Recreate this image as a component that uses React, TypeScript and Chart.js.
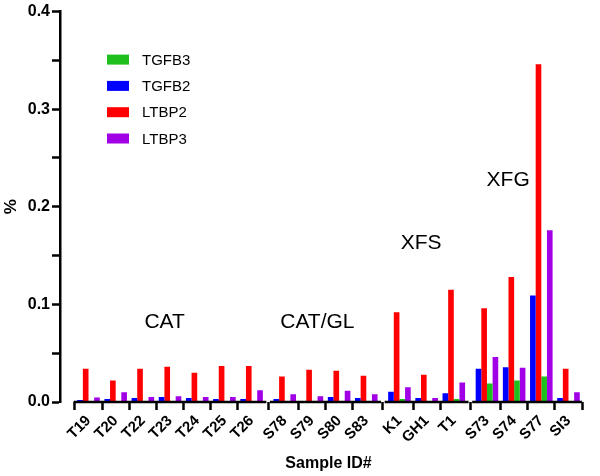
import React, { useEffect, useRef } from 'react';
import { Chart, registerables } from 'chart.js';

Chart.register(...registerables);

const groupNames = ['CAT', 'CAT/GL', 'XFS', 'XFG'];
const groupSamples = [
  ['T19', 'T20', 'T22', 'T23', 'T24', 'T25', 'T26'],
  ['S78', 'S79', 'S80', 'S83'],
  ['K1', 'GH1', 'T1'],
  ['S73', 'S74', 'S77', 'SI3'],
];
const samples = groupSamples.flat();

// values in %
const tgfb2 = [0.002, 0.003, 0.004, 0.005, 0.004, 0.003, 0.003, 0.003, 0.001, 0.005, 0.004, 0.0105, 0.004, 0.009, 0.034, 0.0355, 0.109, 0.004];
const ltbp2 = [0.034, 0.022, 0.034, 0.036, 0.030, 0.037, 0.037, 0.026, 0.033, 0.032, 0.027, 0.092, 0.028, 0.115, 0.096, 0.128, 0.346, 0.034];
const tgfb3 = [0.001, 0.001, 0.001, 0.001, 0.001, 0.001, 0.001, 0.001, 0.001, 0.001, 0.001, 0.003, 0.001, 0.003, 0.019, 0.022, 0.026, 0.0005];
const ltbp3 = [0.0045, 0.010, 0.005, 0.006, 0.005, 0.005, 0.012, 0.008, 0.006, 0.0115, 0.008, 0.015, 0.004, 0.020, 0.046, 0.035, 0.176, 0.010];

const seriesNames = ['TGFB2', 'LTBP2', 'TGFB3', 'LTBP3'];
const seriesValues = [tgfb2, ltbp2, tgfb3, ltbp3];
const seriesColors = ['#0000ff', '#ff0000', '#1dc01d', '#a100e6'];
const legendOrder = [2, 0, 1, 3];

const yTickStep = 0.05;
const yMax = 0.4;

const GAP = 0.22;
const FONT = "'Liberation Sans', Arial, sans-serif";

// x positions: index within the flattened list plus a small gap per group
const xPos: number[] = [];
groupSamples.forEach((g, gi) => {
  g.forEach(() => {
    xPos.push(xPos.length + gi * GAP);
  });
});
const groupStart: number[] = [];
const groupEnd: number[] = [];
{
  let k = 0;
  groupSamples.forEach((g) => {
    groupStart.push(xPos[k]);
    groupEnd.push(xPos[k + g.length - 1]);
    k += g.length;
  });
}
const xMin = -0.5;
const xMax = xPos[xPos.length - 1] + 0.5;

// group label anchors (data units)
const groupLabelX = [2.8, 8.42, 12.24, 15.44];
const groupLabelY = [0.082, 0.082, 0.163, 0.227];

const brokenAxisPlugin = {
  id: 'brokenAxis',
  afterDatasetsDraw(chart: any) {
    const { ctx } = chart;
    const xs = chart.scales.x;
    const y = chart.chartArea.bottom;
    ctx.save();
    ctx.strokeStyle = '#000';
    ctx.lineWidth = 2.5;
    groupSamples.forEach((_, gi) => {
      const a = gi === 0 ? xMin : groupStart[gi] - 0.5 - GAP * 0.2;
      const b = gi === groupSamples.length - 1 ? xMax : groupEnd[gi] + 0.5 + GAP * 0.2;
      ctx.beginPath();
      ctx.moveTo(xs.getPixelForValue(a) - (gi === 0 ? 1.25 : 0), y);
      ctx.lineTo(xs.getPixelForValue(b), y);
      ctx.stroke();
    });
    // group labels
    ctx.fillStyle = '#000';
    ctx.font = `21px ${FONT}`;
    ctx.textAlign = 'center';
    ctx.textBaseline = 'middle';
    groupNames.forEach((n, gi) => {
      ctx.fillText(n, xs.getPixelForValue(groupLabelX[gi]), chart.scales.y.getPixelForValue(groupLabelY[gi]));
    });
    // legend
    const ca = chart.chartArea;
    ctx.font = `15px ${FONT}`;
    ctx.textAlign = 'left';
    legendOrder.forEach((di, r) => {
      const cy = ca.top + 48 + r * 26.3;
      ctx.fillStyle = seriesColors[di];
      ctx.fillRect(ca.left + 47, cy - 5, 22, 10);
      ctx.fillStyle = '#000';
      ctx.fillText(seriesNames[di], ca.left + 82, cy + 1);
    });
    ctx.restore();
  },
};

export default function App() {
  const ref = useRef<HTMLCanvasElement>(null);
  useEffect(() => {
    document.body.style.margin = '0';
    const chart = new Chart(ref.current as HTMLCanvasElement, {
      type: 'bar',
      data: {
        datasets: seriesValues.map((vals, di) => ({
          label: seriesNames[di],
          data: vals.map((v, i) => ({ x: xPos[i], y: v })),
          backgroundColor: seriesColors[di],
          borderWidth: 0,
          categoryPercentage: 0.83,
          barPercentage: 1.0,
        })),
      },
      options: {
        responsive: false,
        animation: false,
        layout: { padding: { top: 10, left: 0, right: 3, bottom: 1 } },
        plugins: { legend: { display: false }, tooltip: { enabled: false } },
        scales: {
          x: {
            type: 'linear',
            min: xMin,
            max: xMax,
            afterBuildTicks: (scale: any) => {
              scale.ticks = xPos.map((v) => ({ value: v }));
            },
            afterFit: (scale: any) => {
              scale.height = 73;
            },
            ticks: {
              autoSkip: false,
              maxRotation: 45,
              minRotation: 45,
              padding: 2,
              color: '#000',
              font: { family: FONT, size: 15, weight: 'bold' },
              callback: (_v: any, i: number) => samples[i],
            },
            grid: {
              display: true,
              drawOnChartArea: false,
              drawTicks: true,
              tickLength: 8,
              tickWidth: 2.5,
              tickColor: '#000',
            },
            border: { display: false },
            title: {
              display: true,
              text: 'Sample ID#',
              color: '#000',
              font: { family: FONT, size: 16, weight: 'bold' },
              padding: { top: 0, bottom: 2 },
            },
          },
          y: {
            min: 0,
            max: yMax,
            afterFit: (scale: any) => {
              scale.width = 60;
            },
            ticks: {
              stepSize: yTickStep,
              padding: 2,
              color: '#000',
              font: { family: FONT, size: 16, weight: 'bold' },
              callback: (v: any, i: number) => (i % 2 === 0 ? Number(v).toFixed(1) : ''),
            },
            grid: {
              drawOnChartArea: false,
              tickLength: 8,
              tickWidth: 2.5,
              tickColor: '#000',
            },
            border: { display: true, color: '#000', width: 2.5 },
            title: {
              display: true,
              text: '%',
              color: '#000',
              font: { family: FONT, size: 17, weight: 'bold' },
              padding: { top: 1, bottom: 0 },
            },
          },
        },
      },
      plugins: [brokenAxisPlugin],
    } as any);
    return () => chart.destroy();
  }, []);
  return (
    <div style={{ width: 600, height: 476, background: '#fff' }}>
      <canvas ref={ref} width={600} height={476} />
    </div>
  );
}
